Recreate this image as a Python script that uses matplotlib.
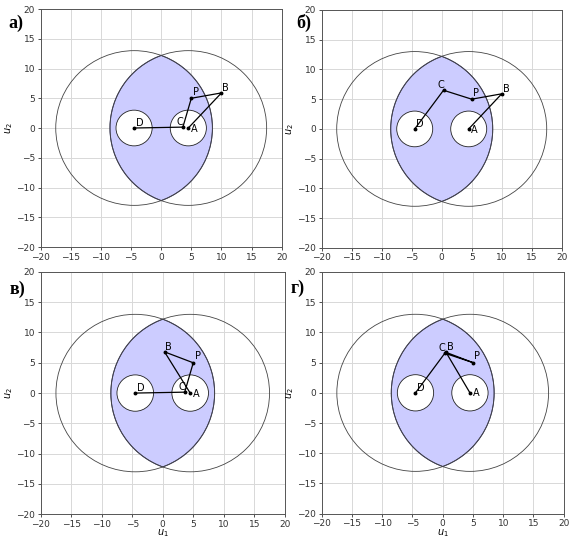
import numpy as np
import matplotlib
matplotlib.use("Agg")
import matplotlib.pyplot as plt
from matplotlib.patches import Circle, Polygon

# ---- data ----
panel_labels = ["а)", "б)", "в)", "г)"]
center_A = (4.5, 0.0)
center_D = (-4.5, 0.0)
big_radius = 13.0
small_radius = 3.0

points_a = {"A": (4.5, 0.0), "B": (10.0, 5.9), "P": (5.0, 5.0), "C": (3.6, 0.15), "D": (-4.5, 0.0)}
points_b = {"A": (4.5, 0.0), "B": (10.0, 5.9), "P": (5.0, 5.0), "C": (0.3, 6.5), "D": (-4.5, 0.0)}
points_c = {"A": (4.5, 0.0), "B": (0.3, 6.8), "P": (5.0, 5.0), "C": (3.6, 0.15), "D": (-4.5, 0.0)}
points_d = {"A": (4.5, 0.0), "B": (0.55, 6.7), "P": (5.0, 5.0), "C": (0.35, 6.55), "D": (-4.5, 0.0)}
chain = ["A", "B", "P", "C", "D"]

ticks = [-20, -15, -10, -5, 0, 5, 10, 15, 20]

# ---- layout ----
fig = plt.figure(figsize=(5.69, 5.39), dpi=100)
axes_rects = [
    (0.0715, 0.5417, 0.4236, 0.4416),
    (0.5654, 0.5400, 0.4218, 0.4416),
    (0.0715, 0.0460, 0.4290, 0.4495),
    (0.5654, 0.0470, 0.4253, 0.4484),
]
label_pos = [(16, 23), (304, 23), (17, 289), (298, 288)]
all_points = [points_a, points_b, points_c, points_d]

# label offsets (style)
offsets = {"A": (0.45, -0.1, "left", "center"),
           "B": (0.15, 0.0, "left", "bottom"),
           "P": (0.25, 0.25, "left", "bottom"),
           "C": (0.1, 0.1, "right", "bottom"),
           "D": (0.25, 0.0, "left", "bottom")}

def lens_polygon():
    half = (center_A[0] - center_D[0]) / 2
    th = np.degrees(np.arctan2(np.sqrt(big_radius**2 - half**2), half))
    t1 = np.radians(np.linspace(-th, th, 200))
    right = np.column_stack([center_D[0] + big_radius * np.cos(t1), center_D[1] + big_radius * np.sin(t1)])
    t2 = np.radians(np.linspace(180 - th, 180 + th, 200))
    left = np.column_stack([center_A[0] + big_radius * np.cos(t2), center_A[1] + big_radius * np.sin(t2)])
    return np.vstack([right, left])

for i, rect in enumerate(axes_rects):
    ax = fig.add_axes(rect)
    pts = all_points[i]
    ax.set_xlim(-20, 20)
    ax.set_ylim(-20, 20)
    ax.set_xticks(ticks)
    ax.set_yticks(ticks)
    ax.tick_params(labelsize=6.5, length=2.5, width=0.6, pad=1.5, colors="#333333")
    for s in ax.spines.values():
        s.set_color("#555555")
        s.set_linewidth(0.7)
    ax.grid(True, color="#d8d8d8", linewidth=0.7)
    ax.set_axisbelow(True)

    ax.add_patch(Polygon(lens_polygon(), closed=True, facecolor="#ccccff",
                         edgecolor="#3a3a6a", linewidth=0.7, zorder=2))
    for c in (center_A, center_D):
        ax.add_patch(Circle(c, big_radius, fill=False, edgecolor="#444444", linewidth=0.6, zorder=3))
        ax.add_patch(Circle(c, small_radius, facecolor="white", edgecolor="#222222", linewidth=0.6, zorder=3))

    xs = [pts[k][0] for k in chain]
    ys = [pts[k][1] for k in chain]
    ax.plot(xs, ys, color="black", linewidth=0.9, zorder=4)
    ax.plot(xs, ys, "o", color="black", markersize=1.8, zorder=5)
    for k in chain:
        dx, dy, ha, va = offsets[k]
        ax.text(pts[k][0] + dx, pts[k][1] + dy, k, fontsize=7, ha=ha, va=va, zorder=6)

    ax.set_ylabel("$u_2$", fontsize=7, labelpad=1)
    if i >= 2:
        ax.set_xlabel("$u_1$", fontsize=7, labelpad=-1)

    lx, ly = label_pos[i]
    fig.text(lx / 569, 1 - ly / 539, panel_labels[i], fontsize=13, fontweight="bold",
             family="Liberation Serif", ha="center", va="center")

fig.savefig("out.png", dpi=100)
